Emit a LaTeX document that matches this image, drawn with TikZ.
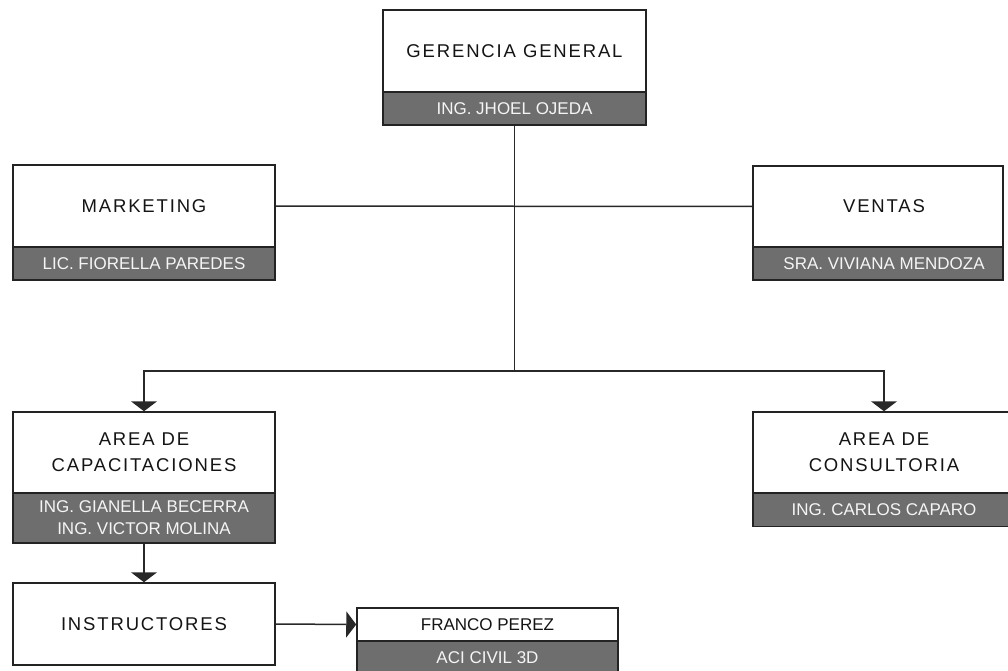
\documentclass[tikz,border=0pt]{standalone}
\usepackage{fontspec}
\setmainfont{Liberation Sans}
\newfontfamily\hdrfamily[LetterSpace=10]{Liberation Sans}
\usetikzlibrary{arrows.meta}
\definecolor{graycol}{RGB}{110,110,110}
\definecolor{nametext}{RGB}{245,245,245}
\definecolor{bordercol}{RGB}{35,35,35}
\definecolor{linecol}{RGB}{40,40,40}
\newcommand{\hdrfont}{\hdrfamily\fontsize{18.5}{26}\selectfont}
\newcommand{\namefont}{\fontsize{17}{22}\selectfont}
\tikzset{
  hdr/.style={draw=bordercol, fill=white, line width=1.5pt, minimum height=82pt,
    font=\hdrfont, align=center, inner sep=0pt, text=black!92},
  nm/.style={draw=bordercol, fill=graycol, line width=1.5pt, minimum height=33pt,
    font=\namefont, align=center, inner sep=0pt, text=nametext},
  conn/.style={draw=linecol, line width=1.5pt},
  arr/.style={conn, -{Triangle[width=26pt,length=10pt]}},
}
\begin{document}
\begin{tikzpicture}[x=1pt,y=-1pt]
\useasboundingbox (0,0) rectangle (1008,671);
\clip (0,0) rectangle (1008,671);
% Gerencia
\node[hdr, minimum width=263pt] (ger) at (514.5,51) {GERENCIA GENERAL};
\node[nm, minimum width=263pt] (gername) at (514.5,108.5) {ING. JHOEL OJEDA};
% Marketing
\node[hdr, minimum width=262pt] (mk) at (144,206) {MARKETING};
\node[nm, minimum width=262pt] (mkname) at (144,263.5) {LIC. FIORELLA PAREDES};
% Ventas
\node[hdr, minimum width=250pt, minimum height=81pt] (vt) at (878,206.5) {\hspace*{12pt}VENTAS};
\node[nm, minimum width=250pt] (vtname) at (878,263.5) {\hspace*{12pt}SRA. VIVIANA MENDOZA};
% Capacitaciones
\node[hdr, minimum width=262pt, minimum height=81pt] (cap) at (144,452.5) {AREA DE\\CAPACITACIONES};
\node[nm, minimum width=262pt, minimum height=50pt] (capname) at (144,518) {ING. GIANELLA BECERRA\\ING. VICTOR MOLINA};
% Consultoria
\node[hdr, minimum width=262pt, minimum height=81pt] (con) at (884,452.5) {AREA DE\\CONSULTORIA};
\node[nm, minimum width=262pt] (conname) at (884,510) {ING. CARLOS CAPARO};
% Instructores
\node[hdr, minimum width=262pt] (ins) at (144,624) {INSTRUCTORES};
% Franco
\node[hdr, minimum width=261pt, minimum height=33pt, font=\namefont] (fr) at (487.5,624.5) {FRANCO PEREZ};
\node[nm, minimum width=261pt] (frname) at (487.5,657.5) {ACI CIVIL 3D};
% connectors
\coordinate (hub) at (514.5,371);
\draw[conn] (gername.south) -- (hub);
\draw[conn] (mk.east) -- (vt.west);
\draw[arr] (hub) -| (cap.north);
\draw[arr] (hub) -| (con.north);
\draw[arr] (capname.south) -- (ins.north);
\draw[arr] (ins.east) -- (fr.west);
\end{tikzpicture}
\end{document}
